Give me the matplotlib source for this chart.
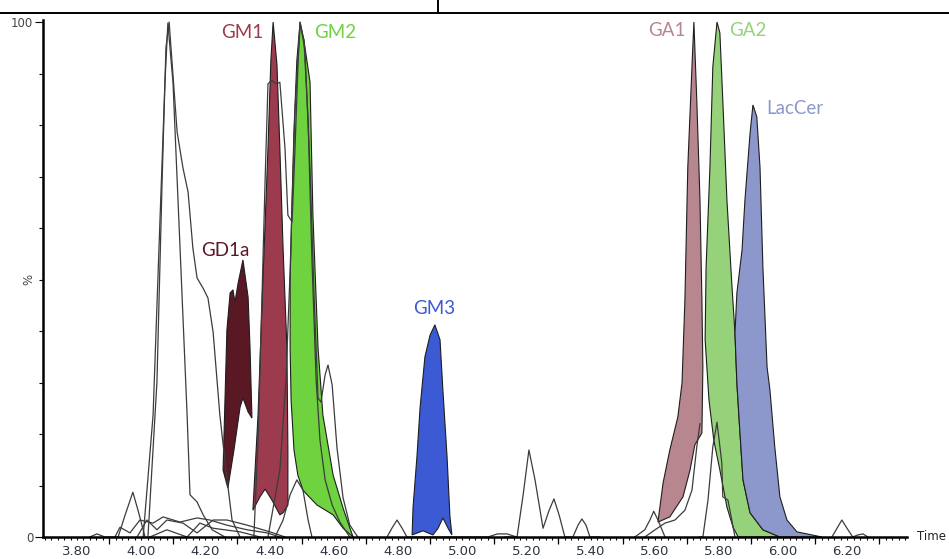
import numpy as np
import matplotlib
matplotlib.use("Agg")
from matplotlib import pyplot as plt
from matplotlib.lines import Line2D

plt.rcParams['font.family'] = ['DejaVu Sans']

# filled peaks (time, %) : outline polygons
gd1a_t = [4.255, 4.267, 4.277, 4.286, 4.292, 4.302, 4.317, 4.333, 4.339, 4.345,
          4.333, 4.317, 4.308, 4.289, 4.270]
gd1a_y = [13.0, 40.2, 47.4, 48.0, 45.6, 49.3, 53.8, 46.6, 36.9, 23.1,
          24.3, 27.0, 25.2, 16.9, 9.5]

gm1_t = [4.348, 4.364, 4.379, 4.395, 4.404, 4.411, 4.423, 4.432, 4.442, 4.454,
         4.457, 4.457, 4.442, 4.432, 4.407, 4.386, 4.370]
gm1_y = [5.2, 23.7, 49.5, 75.5, 92.6, 100.0, 91.7, 75.5, 56.1, 36.7,
         16.9, 6.2, 4.7, 4.3, 7.2, 9.3, 7.8]

gm2_t = [4.495, 4.485, 4.476, 4.470, 4.464, 4.464, 4.467, 4.476, 4.488, 4.504,
         4.517, 4.548, 4.598, 4.629, 4.660, 4.629, 4.598, 4.566, 4.551, 4.535,
         4.526, 4.507]
gm2_y = [100.0, 92.6, 79.0, 65.4, 49.9, 36.7, 26.6, 16.9, 12.0, 9.1,
         8.2, 6.2, 4.3, 1.7, 0.0, 5.6, 12.0, 23.7, 36.7, 62.5,
         88.3, 96.5]

gm3_t = [4.844, 4.847, 4.859, 4.869, 4.884, 4.900, 4.915, 4.931, 4.940, 4.953,
         4.962, 4.968, 4.956, 4.940, 4.925, 4.909, 4.878]
gm3_y = [0.4, 5.8, 15.5, 25.2, 35.0, 39.2, 41.2, 38.3, 28.5, 15.5,
         3.9, 0.4, 1.7, 3.7, 1.7, 0.4, 1.2]

ga1_t = [5.610, 5.626, 5.647, 5.672, 5.685, 5.694, 5.703, 5.716, 5.722, 5.731,
         5.741, 5.747, 5.750, 5.747, 5.725, 5.710, 5.688, 5.647]
ga1_y = [2.9, 10.5, 16.9, 23.3, 29.9, 46.0, 71.8, 91.3, 100.0, 84.9,
         65.4, 46.0, 33.0, 20.2, 17.9, 13.0, 7.8, 3.9]

ga2_t = [5.860, 5.844, 5.825, 5.803, 5.784, 5.769, 5.757, 5.760, 5.772, 5.781,
         5.794, 5.803, 5.812, 5.825, 5.840, 5.850, 5.856, 5.865, 5.875, 5.897,
         5.937, 5.990]
ga2_y = [0.0, 1.9, 5.8, 13.0, 18.8, 26.6, 38.3, 52.4, 71.8, 91.3,
         100.0, 97.9, 84.9, 65.4, 49.3, 39.6, 29.9, 20.8, 11.1, 4.7,
         1.4, 0.0]

laccer_t = [5.856, 5.872, 5.881, 5.897, 5.906, 5.918, 5.928, 5.937, 5.950, 5.959,
            5.974, 5.990, 6.012, 6.043, 6.074, 6.121, 5.990, 5.937, 5.897, 5.875,
            5.865, 5.856, 5.850]
laccer_y = [47.4, 55.7, 65.4, 78.4, 83.9, 81.6, 71.8, 52.4, 33.0, 28.5,
            17.5, 7.8, 3.3, 1.0, 0.6, 0.0, 0.0, 1.4, 4.7, 11.1,
            20.8, 29.9, 39.6]

# unfilled traces
trace_a1_t = [4.006, 4.037, 4.059, 4.074, 4.083, 4.099, 4.121, 4.143, 4.152, 4.174, 4.193, 4.221, 4.261]
trace_a1_y = [0.0, 23.7, 62.5, 88.3, 99.8, 88.3, 56.1, 23.7, 8.2, 6.8, 4.3, 1.4, 0.0]

trace_a2_t = [4.021, 4.049, 4.065, 4.077, 4.087, 4.112, 4.130, 4.146, 4.161, 4.174,
              4.193, 4.208, 4.224, 4.245, 4.264, 4.283, 4.308]
trace_a2_y = [0.0, 30.1, 68.9, 95.0, 100.0, 78.6, 71.7, 67.0, 56.1, 50.3,
              48.3, 46.4, 39.8, 23.7, 13.0, 3.3, 0.0]

trace_b_t = [4.351, 4.364, 4.376, 4.386, 4.395, 4.407, 4.420, 4.432, 4.448, 4.457,
             4.470, 4.479, 4.489, 4.495, 4.507, 4.520, 4.532, 4.545, 4.557, 4.573,
             4.595, 4.619, 4.650]
trace_b_y = [0.0, 18.8, 46.0, 69.3, 88.0, 88.7, 88.0, 88.3, 75.5, 62.5,
             61.2, 75.1, 92.6, 99.4, 96.5, 81.0, 53.8, 30.5, 18.8, 11.1,
             6.2, 2.9, 0.0]

trace_c_t = [4.395, 4.432, 4.451, 4.464, 4.479, 4.495, 4.510, 4.526, 4.539, 4.551,
             4.560, 4.573, 4.582, 4.595, 4.610, 4.629, 4.650, 4.675]
trace_c_y = [0.0, 13.0, 30.5, 51.8, 82.9, 100.0, 94.6, 71.3, 46.0, 27.0,
             26.2, 31.5, 33.4, 29.5, 17.3, 7.6, 2.3, 0.0]

trace_d_t = [4.417, 4.442, 4.464, 4.485, 4.504, 4.520, 4.532]
trace_d_y = [0.0, 3.3, 8.2, 11.1, 9.1, 3.3, 0.0]

trace_e_t = [3.918, 3.934, 3.965, 3.996, 4.037, 4.068, 4.121, 4.174, 4.214, 4.267, 4.330, 4.392, 4.432]
trace_e_y = [0.0, 1.9, 0.8, 3.3, 2.7, 3.9, 2.9, 3.7, 3.3, 2.3, 1.4, 0.8, 0.0]

trace_f_t = [3.987, 4.018, 4.049, 4.080, 4.130, 4.174, 4.224, 4.267, 4.330, 4.401, 4.448]
trace_f_y = [0.0, 3.3, 1.4, 3.3, 2.7, 0.8, 3.3, 3.3, 2.3, 1.0, 0.0]

trace_g_t = [4.027, 4.080, 4.143, 4.183, 4.224, 4.308, 4.370]
trace_g_y = [0.0, 1.4, 0.0, 2.7, 1.7, 1.0, 0.0]

trace_h_t = [3.840, 3.862, 3.887, 3.928, 3.950, 3.974, 3.990, 4.012]
trace_h_y = [0.0, 0.6, 0.0, 0.0, 4.3, 8.7, 5.2, 0.0]

trace_i_t = [4.766, 4.781, 4.797, 4.813, 4.828, 5.080, 5.110, 5.140, 5.170]
trace_i_y = [0.0, 1.7, 3.3, 1.7, 0.0, 0.0, 0.6, 0.6, 0.0]

trace_j_t = [5.133, 5.171, 5.190, 5.208, 5.227, 5.252, 5.271, 5.286, 5.302, 5.320,
             5.345, 5.361, 5.373, 5.386, 5.398, 5.429]
trace_j_y = [0.0, 0.0, 8.2, 16.9, 11.1, 1.7, 5.2, 7.4, 4.3, 0.0,
             0.0, 2.3, 3.5, 2.3, 0.0, 0.0]

trace_k_t = [5.538, 5.569, 5.585, 5.597, 5.610, 5.632]
trace_k_y = [0.0, 1.4, 3.3, 5.0, 3.3, 0.0]

trace_l_t = [5.569, 5.601, 5.632, 5.663, 5.694, 5.716, 5.731, 5.741]
trace_l_y = [0.0, 1.4, 2.7, 3.3, 5.2, 9.1, 17.5, 22.0]

trace_m_t = [5.740, 5.750, 5.766, 5.781, 5.794, 5.809, 5.812, 5.828, 5.840, 5.850]
trace_m_y = [0.0, 0.0, 7.2, 17.5, 22.3, 14.4, 7.8, 7.2, 3.3, 0.0]

trace_n_t = [6.152, 6.168, 6.183, 6.199, 6.217, 6.233, 6.249, 6.264]
trace_n_y = [0.0, 1.7, 3.3, 1.7, 0.0, 0.4, 0.6, 0.0]

peaks = [
    (gd1a_t, gd1a_y, "#5a1824", "GD1a", 4.261, 55.7),
    (gm1_t, gm1_y, "#9c3b4d", "GM1", 4.314, 98.0),
    (gm2_t, gm2_y, "#6fd23f", "GM2", 4.604, 97.9),
    (gm3_t, gm3_y, "#3c5ad4", "GM3", 4.912, 44.3),
    (ga1_t, ga1_y, "#b8868f", "GA1", 5.638, 98.3),
    (ga2_t, ga2_y, "#95d27a", "GA2", 5.890, 98.3),
    (laccer_t, laccer_y, "#8c97cb", "LacCer", 6.037, 83.3),
]

traces = [
    (trace_a1_t, trace_a1_y), (trace_a2_t, trace_a2_y), (trace_b_t, trace_b_y),
    (trace_c_t, trace_c_y), (trace_d_t, trace_d_y), (trace_e_t, trace_e_y),
    (trace_f_t, trace_f_y), (trace_g_t, trace_g_y), (trace_h_t, trace_h_y),
    (trace_i_t, trace_i_y), (trace_j_t, trace_j_y), (trace_k_t, trace_k_y),
    (trace_l_t, trace_l_y), (trace_m_t, trace_m_y), (trace_n_t, trace_n_y),
]

label_ticks = [3.8, 4.0, 4.2, 4.4, 4.6, 4.8, 5.0, 5.2, 5.4, 5.6, 5.8, 6.0, 6.2]
long_ticks = [3.9, 4.1, 4.3, 4.5, 4.7, 4.9, 5.1, 5.3, 5.5, 5.7, 5.9, 6.1, 6.3]


def main():
    fig = plt.figure(figsize=(9.49, 5.59), dpi=100)
    ax = fig.add_axes([43 / 949, 22 / 559, 864 / 949, 517 / 559])

    for t, y, color, name, lx, ly in peaks:
        ax.fill(t, y, facecolor=color, edgecolor="#1e1e1e", linewidth=0.8, zorder=2)
        ax.text(lx, ly, name, color=color, fontsize=13.5,
                family=["Lato", "DejaVu Sans"], ha="center", va="center", zorder=5)

    for t, y in traces:
        ax.plot(t, y, color="#3c3c3c", linewidth=0.9, zorder=3)

    ax.set_xlim(3.694, 6.386)
    ax.set_ylim(0, 100.4)

    for side in ("top", "right"):
        ax.spines[side].set_visible(False)
    for side in ("left", "bottom"):
        ax.spines[side].set_linewidth(1.8)
        ax.spines[side].set_zorder(6)

    ax.set_xticks(label_ticks)
    ax.set_xticklabels(["%.2f" % v for v in label_ticks])
    ax.set_xticks(np.arange(3.70, 6.39, 0.02), minor=True)
    ax.tick_params(axis="x", which="both", direction="out", length=2.5, width=0.8,
                   labelsize=9.5, labelcolor="#2e3440", pad=3)

    sec = ax.secondary_xaxis("bottom")
    sec.set_xticks(long_ticks)
    sec.tick_params(length=5, width=0.9, labelbottom=False)
    sec.spines["bottom"].set_visible(False)

    ax.set_yticks([0, 100])
    ax.set_yticklabels(["0", "100"])
    ax.set_yticks(np.arange(0, 101, 10), minor=True)
    ax.tick_params(axis="y", which="major", length=6, width=0.8, labelsize=8.5,
                   labelcolor="#444444", pad=1)
    ax.tick_params(axis="y", which="minor", length=3, width=0.8)
    ax.text(-0.016, 0.5 * 100 / 100.4, "%", transform=ax.transAxes, rotation=90,
            ha="center", va="center", fontsize=8.5, color="#444444")

    ax.text(1.012, 0.0, "Time", transform=ax.transAxes, ha="left", va="center",
            fontsize=8.5, color="#222222")

    fig.add_artist(Line2D([0, 1], [1 - 13 / 559, 1 - 13 / 559], color="black", linewidth=1.4))
    fig.add_artist(Line2D([438 / 949, 438 / 949], [1 - 13 / 559, 1], color="black", linewidth=1.4))

    fig.savefig("out.png", dpi=100)


if __name__ == "__main__":
    main()
